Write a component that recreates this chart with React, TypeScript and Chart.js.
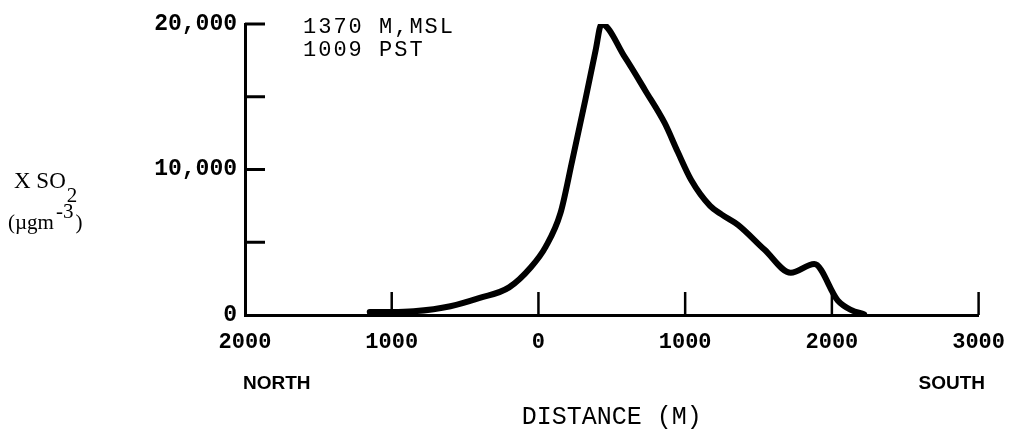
import React, { useEffect, useRef } from "react";
import { Chart, registerables } from "chart.js";

Chart.register(...registerables);

// Distance (m): negative = north of the source, positive = south
const distance = [-1150, -1000, -850, -600, -400, -200, -50, 50, 150, 230, 320, 390, 430, 590, 730, 860, 950, 1040, 1170, 1250, 1360, 1540, 1720, 1880, 2040, 2130, 2220];
// SO2 concentration (µg m^-3)
const so2 = [200, 200, 250, 600, 1170, 1900, 3300, 4700, 7000, 10600, 14800, 18200, 20000, 17700, 15400, 13200, 11200, 9300, 7500, 6900, 6200, 4500, 2900, 3500, 1000, 350, 50];

const xTickValues = [-1000, 0, 1000, 2000, 3000];
const yTickValues = [5000, 10000, 15000, 20000];
const annotationLines = ["1370 M,MSL", "1009 PST"];
const directionLabels = ["NORTH", "SOUTH"];
const xTitle = "DISTANCE (M)";

const MONO = "'Liberation Mono', 'DejaVu Sans Mono', monospace";
const SERIF = "'Liberation Serif', 'DejaVu Serif', serif";

const decorPlugin = {
  id: "decor",
  afterDraw(chart: any) {
    const ctx = chart.ctx as CanvasRenderingContext2D;
    const xs = chart.scales.x;
    const ys = chart.scales.y;
    const ca = chart.chartArea;
    ctx.save();
    ctx.strokeStyle = "#000";
    ctx.fillStyle = "#000";
    // inward ticks on y axis
    ctx.lineWidth = 3;
    yTickValues.forEach((v) => {
      const py = ys.getPixelForValue(v);
      ctx.beginPath();
      ctx.moveTo(ca.left, py);
      ctx.lineTo(ca.left + 20, py);
      ctx.stroke();
    });
    // inward ticks on x axis
    ctx.lineWidth = 2.5;
    xTickValues.forEach((v) => {
      const px = xs.getPixelForValue(v);
      ctx.beginPath();
      ctx.moveTo(px, ca.bottom);
      ctx.lineTo(px, ca.bottom - 23);
      ctx.stroke();
    });
    // annotation
    ctx.font = `22px ${MONO}`;
    (ctx as any).letterSpacing = "2px";
    ctx.textAlign = "left";
    ctx.textBaseline = "middle";
    annotationLines.forEach((t, i) => {
      ctx.fillText(t, 303, 27 + i * 23);
    });
    (ctx as any).letterSpacing = "0px";
    // direction labels
    ctx.font = "bold 19px 'Liberation Sans', Arial, sans-serif";
    ctx.textAlign = "left";
    ctx.fillText(directionLabels[0], 243, 384);
    ctx.textAlign = "right";
    ctx.fillText(directionLabels[1], 985, 384);
    // y axis title with sub/superscripts
    ctx.textAlign = "left";
    ctx.font = `23px ${SERIF}`;
    ctx.fillText("X SO", 14, 182);
    let w = ctx.measureText("X SO").width;
    ctx.font = `21px ${SERIF}`;
    ctx.fillText("2", 14 + w + 1, 196);
    ctx.font = `21px ${SERIF}`;
    ctx.fillText("(µgm", 8, 223);
    w = ctx.measureText("(µgm").width;
    ctx.fillText("-3", 8 + w + 2, 212);
    const w2 = ctx.measureText("-3").width;
    ctx.fillText(")", 8 + w + w2 + 4, 223);
    ctx.restore();
  },
};

export default function App() {
  const ref = useRef<HTMLCanvasElement | null>(null);
  useEffect(() => {
    if (!ref.current) return;
    const chart = new Chart(ref.current, {
      type: "line",
      data: {
        datasets: [
          {
            data: distance.map((x, i) => ({ x, y: so2[i] })),
            borderColor: "#000",
            borderWidth: 6,
            pointRadius: 0,
            cubicInterpolationMode: "monotone",
            borderCapStyle: "round",
            borderJoinStyle: "round",
            fill: false,
          },
        ],
      },
      options: {
        responsive: false,
        animation: false,
        devicePixelRatio: 1,
        layout: { padding: { top: 24, right: 36, left: 0, bottom: 0 } },
        plugins: {
          legend: { display: false },
          tooltip: { enabled: false },
        },
        scales: {
          x: {
            type: "linear",
            min: -2000,
            max: 3000,
            afterFit: (s: any) => {
              s.height = 121;
            },
            ticks: {
              stepSize: 1000,
              color: "#000",
              padding: 14,
              maxRotation: 0,
              font: { family: MONO, size: 22, weight: "bold" },
              callback: (v: any) => String(Math.abs(Number(v))),
            },
            grid: { display: false, drawTicks: false },
            border: { display: true, color: "#000", width: 3 },
            title: {
              display: true,
              text: xTitle,
              color: "#000",
              font: { family: MONO, size: 25, lineHeight: 1.2 },
              padding: { top: 0, bottom: 4 },
            },
          },
          y: {
            type: "linear",
            min: 0,
            max: 20000,
            afterFit: (s: any) => {
              s.width = 245;
            },
            ticks: {
              stepSize: 5000,
              color: "#000",
              padding: 8,
              font: { family: MONO, size: 23, weight: "bold" },
              callback: (v: any) =>
                Number(v) % 10000 === 0 ? Number(v).toLocaleString("en-US") : "",
            },
            grid: { display: false, drawTicks: false },
            border: { display: true, color: "#000", width: 3 },
          },
        },
      },
      plugins: [decorPlugin],
    } as any);
    return () => chart.destroy();
  }, []);
  return (
    <div
      style={{
        position: "fixed",
        left: 0,
        top: 0,
        width: 1019,
        height: 436,
        background: "#fff",
      }}
    >
      <canvas ref={ref} width={1019} height={436} style={{ display: "block" }} />
    </div>
  );
}
